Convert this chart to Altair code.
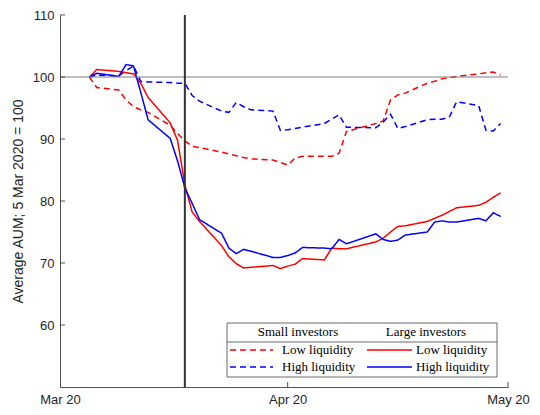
import altair as alt
import pandas as pd

# ---------------- data ----------------
DATES = [
    "2020-03-05", "2020-03-06", "2020-03-09", "2020-03-10", "2020-03-11", "2020-03-12", "2020-03-13",
    "2020-03-16", "2020-03-17", "2020-03-18", "2020-03-19", "2020-03-20", "2020-03-23", "2020-03-24",
    "2020-03-25", "2020-03-26", "2020-03-27", "2020-03-30", "2020-03-31",
    "2020-04-01", "2020-04-02", "2020-04-03", "2020-04-06", "2020-04-07", "2020-04-08", "2020-04-09",
    "2020-04-13", "2020-04-14", "2020-04-15", "2020-04-16", "2020-04-17", "2020-04-20", "2020-04-21",
    "2020-04-22", "2020-04-23", "2020-04-24", "2020-04-27", "2020-04-28", "2020-04-29", "2020-04-30",
]

SMALL_LOW = [
    100.0, 98.3, 97.9, 96.3, 95.2, 94.7, 94.3, 92.2, 90.9, 89.7, 88.8, 88.6, 87.9, 87.6,
    87.3, 87.0, 86.8, 86.6, 86.2,
    85.8, 86.9, 87.2, 87.2, 87.2, 87.7, 91.2, 92.5, 92.9, 96.3, 97.1, 97.4, 99.0, 99.3,
    99.7, 99.9, 100.1, 100.5, 100.7, 100.8, 100.3,
]
SMALL_HIGH = [
    100.0, 100.3, 100.2, 101.0, 101.8, 99.3, 99.2, 99.1, 99.0, 99.0, 97.0, 96.1, 94.5, 94.3,
    95.9, 95.2, 94.7, 94.5, 91.4,
    91.5, 91.7, 91.9, 92.5, 93.2, 93.9, 91.9, 91.8, 92.7, 94.0, 91.7, 92.0, 93.1, 93.2,
    93.2, 93.5, 96.0, 95.4, 91.4, 91.3, 92.5,
]
LARGE_LOW = [
    100.0, 101.2, 100.9, 100.7, 100.5, 99.0, 96.7, 92.6, 89.8, 82.6, 78.2, 76.7, 72.8, 71.0,
    69.9, 69.2, 69.3, 69.6, 69.1,
    69.5, 69.8, 70.7, 70.5, 72.4, 72.3, 72.3, 73.4, 74.0, 75.0, 75.9, 76.0, 76.7, 77.2,
    77.7, 78.3, 78.9, 79.3, 79.8, 80.6, 81.3,
]
LARGE_HIGH = [
    100.0, 100.6, 100.1, 102.0, 101.8, 97.5, 93.1, 90.1, 86.5, 82.1, 79.6, 77.0, 74.8, 72.4,
    71.5, 72.2, 71.9, 70.9, 70.9,
    71.2, 71.6, 72.5, 72.4, 72.3, 73.8, 73.1, 74.7, 73.8, 73.5, 73.7, 74.5, 75.0, 76.6,
    76.8, 76.6, 76.6, 77.2, 76.8, 78.1, 77.5,
]

INVESTORS = ["Small investors", "Large investors"]
LIQUIDITY = ["Low liquidity", "High liquidity"]
Y_TICKS = [60, 70, 80, 90, 100, 110]
X_TICKS = ["2020-03-01", "2020-04-01", "2020-05-01"]
EVENT_DATE = "2020-03-18"
BASELINE = 100
Y_TITLE = "Average AUM; 5 Mar 2020 = 100"

# ---------------- layout / style ----------------
W, H = 448, 372
RED, BLUE = "#ff0000", "#0000ff"
AXIS_COLOR = "#262626"
DASH = [6, 4]
SANS = "Liberation Sans"
SERIF = "Liberation Serif"

rows = []
for inv, liq, vals in [
    (INVESTORS[0], LIQUIDITY[0], SMALL_LOW),
    (INVESTORS[0], LIQUIDITY[1], SMALL_HIGH),
    (INVESTORS[1], LIQUIDITY[0], LARGE_LOW),
    (INVESTORS[1], LIQUIDITY[1], LARGE_HIGH),
]:
    for d, v in zip(DATES, vals):
        rows.append({"date": d + "T00:00:00", "value": v, "investor": inv,
                     "liquidity": liq, "series": inv + " | " + liq})
df = pd.DataFrame(rows)


def dt(s):
    y, m, d = (int(p) for p in s.split("-"))
    return alt.DateTime(year=y, month=m, date=d)


x_main = alt.X(
    "date:T",
    scale=alt.Scale(domain=[dt(X_TICKS[0]), dt(X_TICKS[-1])]),
    axis=alt.Axis(values=[dt(s) for s in X_TICKS], format="%b %y", title=None,
                  ticks=False, labelPadding=6, grid=False, labelFlush=False),
)
y_main = alt.Y(
    "value:Q",
    scale=alt.Scale(domain=[50, 110], nice=False, zero=False),
    axis=alt.Axis(values=Y_TICKS, title=Y_TITLE, ticks=False, labelPadding=6,
                  titlePadding=7, grid=False, labelFlush=False),
)

lines = alt.Chart(df).mark_line(strokeWidth=1.5, clip=True).encode(
    x=x_main,
    y=y_main,
    color=alt.Color("liquidity:N", scale=alt.Scale(domain=LIQUIDITY, range=[RED, BLUE]), legend=None),
    strokeDash=alt.StrokeDash("investor:N", scale=alt.Scale(domain=INVESTORS, range=[DASH, [1, 0]]),
                              legend=None),
    detail="series:N",
)

hline = alt.Chart(pd.DataFrame({"value": [BASELINE]})).mark_rule(
    color="#7f7f7f", strokeWidth=1
).encode(y="value:Q", x=alt.value(0), x2=alt.value(W))

vline = alt.Chart(pd.DataFrame({"date": [EVENT_DATE + "T00:00:00"]})).mark_rule(
    color="#333333", strokeWidth=2
).encode(x="date:T", y=alt.value(0), y2=alt.value(H))

ytick = alt.Chart(pd.DataFrame({"value": Y_TICKS})).mark_rule(
    color=AXIS_COLOR, strokeWidth=0.8
).encode(y="value:Q", x=alt.value(0), x2=alt.value(5))

xtick = alt.Chart(pd.DataFrame({"date": [s + "T00:00:00" for s in X_TICKS[1:]]})).mark_rule(
    color=AXIS_COLOR, strokeWidth=0.8
).encode(x="date:T", y=alt.value(H), y2=alt.value(H - 5))

# ---------------- custom legend box ----------------
one = pd.DataFrame({"k": [0]})
LX0, LX1, LY0, LY1 = 167, 437, 308, 362
HEAD_Y, HEAD_LINE, ROW1, ROW2 = 317, 327, 335, 352

legend_layers = [
    alt.Chart(one).mark_rect(fill="white", stroke="#444444", strokeWidth=0.8).encode(
        x=alt.value(LX0), x2=alt.value(LX1), y=alt.value(LY0), y2=alt.value(LY1)),
    alt.Chart(one).mark_rule(color="#444444", strokeWidth=0.8).encode(
        x=alt.value(LX0), x2=alt.value(LX1), y=alt.value(HEAD_LINE)),
]


def text(txt, x, y, align):
    return alt.Chart(one).mark_text(text=txt, align=align, baseline="middle", font=SERIF,
                                    fontSize=13, color="black").encode(
        x=alt.value(x), y=alt.value(y))


def sample(x0, x1, y, color, dash):
    return alt.Chart(one).mark_rule(color=color, strokeWidth=1.5, strokeDash=dash).encode(
        x=alt.value(x0), x2=alt.value(x1), y=alt.value(y))


legend_layers += [
    text(INVESTORS[0], 238, HEAD_Y, "center"),
    text(INVESTORS[1], 366, HEAD_Y, "center"),
    sample(170, 213, ROW1, RED, DASH),
    sample(170, 213, ROW2, BLUE, DASH),
    sample(307, 352, ROW1, RED, [1, 0]),
    sample(307, 352, ROW2, BLUE, [1, 0]),
    text(LIQUIDITY[0], 222, ROW1, "left"),
    text(LIQUIDITY[1], 222, ROW2, "left"),
    text(LIQUIDITY[0], 356, ROW1, "left"),
    text(LIQUIDITY[1], 356, ROW2, "left"),
]

chart = alt.layer(lines, hline, vline, ytick, xtick, *legend_layers).properties(
    width=W,
    height=H,
    autosize=alt.AutoSizeParams(type="none"),
    padding={"left": 52, "top": 7, "right": 24, "bottom": 20},
    background="white",
).configure_view(stroke=None).configure_axis(
    domainColor=AXIS_COLOR,
    domainWidth=0.8,
    labelColor=AXIS_COLOR,
    labelFont=SANS,
    labelFontSize=13,
    titleFont=SANS,
    titleFontSize=14,
    titleFontWeight="normal",
    titleColor=AXIS_COLOR,
)

chart.save("out.html", embed_options={"renderer": "svg", "actions": False})
